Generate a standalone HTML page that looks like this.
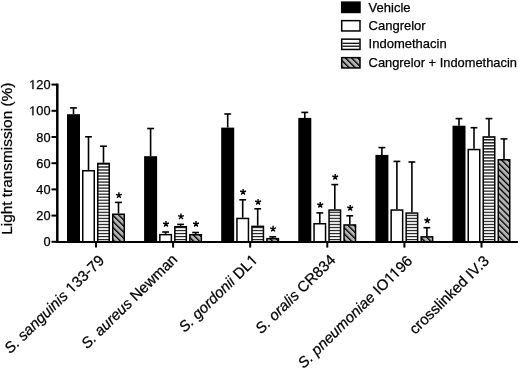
<!DOCTYPE html>
<html><head><meta charset="utf-8"><style>
html,body{margin:0;padding:0;background:#fff;}
body{width:520px;height:371px;overflow:hidden;}
svg{display:block;filter:grayscale(1);}
text{font-family:"Liberation Sans",sans-serif;fill:#000;stroke:#000;stroke-width:0.25px;}
.h{fill:none;stroke:none;}
</style></head><body>
<svg width="520" height="371" viewBox="0 0 520 371">
<defs>
<pattern id="hs" patternUnits="userSpaceOnUse" width="13" height="3.02" y="0.3"><rect width="13" height="3.02" fill="#fff"/><rect width="13" height="1.18" fill="#000"/></pattern>
<pattern id="dgl" patternUnits="userSpaceOnUse" width="4.3" height="4.3" x="0.5" patternTransform="rotate(-45)"><rect width="4.3" height="4.3" fill="#b4b4b4"/><rect width="1.35" height="4.3" fill="#000"/></pattern>
<pattern id="dg" patternUnits="userSpaceOnUse" width="4.3" height="4.3" patternTransform="rotate(-45)"><rect width="4.3" height="4.3" fill="#b4b4b4"/><rect width="1.35" height="4.3" fill="#000"/></pattern>
</defs>
<rect width="520" height="371" fill="#fff"/>

<line x1="73.50" y1="107.90" x2="73.50" y2="114.20" stroke="#000" stroke-width="1.6"/>
<line x1="70.10" y1="107.90" x2="76.90" y2="107.90" stroke="#000" stroke-width="1.6"/>
<rect x="67.00" y="114.20" width="13.0" height="127.60" fill="#000"/>
<line x1="88.50" y1="136.80" x2="88.50" y2="170.00" stroke="#000" stroke-width="1.6"/>
<line x1="85.10" y1="136.80" x2="91.90" y2="136.80" stroke="#000" stroke-width="1.6"/>
<rect x="82.75" y="170.75" width="11.5" height="71.05" fill="#fff" stroke="#000" stroke-width="1.5"/>
<line x1="103.50" y1="146.20" x2="103.50" y2="162.70" stroke="#000" stroke-width="1.6"/>
<line x1="100.10" y1="146.20" x2="106.90" y2="146.20" stroke="#000" stroke-width="1.6"/>
<rect x="97.75" y="163.45" width="11.5" height="78.35" fill="url(#hs)" stroke="#000" stroke-width="1.5"/>
<line x1="118.50" y1="202.40" x2="118.50" y2="213.50" stroke="#000" stroke-width="1.6"/>
<line x1="115.10" y1="202.40" x2="121.90" y2="202.40" stroke="#000" stroke-width="1.6"/>
<rect x="112.75" y="214.25" width="11.5" height="27.55" fill="url(#dg)" stroke="#000" stroke-width="1.5"/>
<path d="M118.90 195.30L118.90 192.20M118.90 195.30L121.85 194.34M118.90 195.30L120.72 197.81M118.90 195.30L117.08 197.81M118.90 195.30L115.95 194.34" stroke="#000" stroke-width="1.4" fill="none"/>
<line x1="150.60" y1="128.50" x2="150.60" y2="156.20" stroke="#000" stroke-width="1.6"/>
<line x1="147.20" y1="128.50" x2="154.00" y2="128.50" stroke="#000" stroke-width="1.6"/>
<rect x="144.10" y="156.20" width="13.0" height="85.60" fill="#000"/>
<line x1="165.60" y1="232.00" x2="165.60" y2="233.90" stroke="#000" stroke-width="1.6"/>
<line x1="162.20" y1="232.00" x2="169.00" y2="232.00" stroke="#000" stroke-width="1.6"/>
<rect x="159.85" y="234.65" width="11.5" height="7.15" fill="#fff" stroke="#000" stroke-width="1.5"/>
<path d="M166.00 224.00L166.00 220.90M166.00 224.00L168.95 223.04M166.00 224.00L167.82 226.51M166.00 224.00L164.18 226.51M166.00 224.00L163.05 223.04" stroke="#000" stroke-width="1.4" fill="none"/>
<line x1="180.60" y1="224.40" x2="180.60" y2="226.00" stroke="#000" stroke-width="1.6"/>
<line x1="177.20" y1="224.40" x2="184.00" y2="224.40" stroke="#000" stroke-width="1.6"/>
<rect x="174.85" y="226.75" width="11.5" height="15.05" fill="url(#hs)" stroke="#000" stroke-width="1.5"/>
<path d="M181.00 216.60L181.00 213.50M181.00 216.60L183.95 215.64M181.00 216.60L182.82 219.11M181.00 216.60L179.18 219.11M181.00 216.60L178.05 215.64" stroke="#000" stroke-width="1.4" fill="none"/>
<line x1="195.60" y1="232.50" x2="195.60" y2="234.00" stroke="#000" stroke-width="1.6"/>
<line x1="192.20" y1="232.50" x2="199.00" y2="232.50" stroke="#000" stroke-width="1.6"/>
<rect x="189.85" y="234.75" width="11.5" height="7.05" fill="url(#dg)" stroke="#000" stroke-width="1.5"/>
<path d="M196.00 224.00L196.00 220.90M196.00 224.00L198.95 223.04M196.00 224.00L197.82 226.51M196.00 224.00L194.18 226.51M196.00 224.00L193.05 223.04" stroke="#000" stroke-width="1.4" fill="none"/>
<line x1="227.70" y1="114.00" x2="227.70" y2="127.60" stroke="#000" stroke-width="1.6"/>
<line x1="224.30" y1="114.00" x2="231.10" y2="114.00" stroke="#000" stroke-width="1.6"/>
<rect x="221.20" y="127.60" width="13.0" height="114.20" fill="#000"/>
<line x1="242.70" y1="199.80" x2="242.70" y2="217.70" stroke="#000" stroke-width="1.6"/>
<line x1="239.30" y1="199.80" x2="246.10" y2="199.80" stroke="#000" stroke-width="1.6"/>
<rect x="236.95" y="218.45" width="11.5" height="23.35" fill="#fff" stroke="#000" stroke-width="1.5"/>
<path d="M243.10 192.00L243.10 188.90M243.10 192.00L246.05 191.04M243.10 192.00L244.92 194.51M243.10 192.00L241.28 194.51M243.10 192.00L240.15 191.04" stroke="#000" stroke-width="1.4" fill="none"/>
<line x1="257.70" y1="208.80" x2="257.70" y2="225.60" stroke="#000" stroke-width="1.6"/>
<line x1="254.30" y1="208.80" x2="261.10" y2="208.80" stroke="#000" stroke-width="1.6"/>
<rect x="251.95" y="226.35" width="11.5" height="15.45" fill="url(#hs)" stroke="#000" stroke-width="1.5"/>
<path d="M258.10 202.00L258.10 198.90M258.10 202.00L261.05 201.04M258.10 202.00L259.92 204.51M258.10 202.00L256.28 204.51M258.10 202.00L255.15 201.04" stroke="#000" stroke-width="1.4" fill="none"/>
<line x1="272.70" y1="236.80" x2="272.70" y2="237.90" stroke="#000" stroke-width="1.6"/>
<line x1="269.30" y1="236.80" x2="276.10" y2="236.80" stroke="#000" stroke-width="1.6"/>
<rect x="266.95" y="238.65" width="11.5" height="3.15" fill="url(#dg)" stroke="#000" stroke-width="1.5"/>
<path d="M273.10 228.80L273.10 225.70M273.10 228.80L276.05 227.84M273.10 228.80L274.92 231.31M273.10 228.80L271.28 231.31M273.10 228.80L270.15 227.84" stroke="#000" stroke-width="1.4" fill="none"/>
<line x1="304.80" y1="112.40" x2="304.80" y2="117.90" stroke="#000" stroke-width="1.6"/>
<line x1="301.40" y1="112.40" x2="308.20" y2="112.40" stroke="#000" stroke-width="1.6"/>
<rect x="298.30" y="117.90" width="13.0" height="123.90" fill="#000"/>
<line x1="319.80" y1="212.90" x2="319.80" y2="223.00" stroke="#000" stroke-width="1.6"/>
<line x1="316.40" y1="212.90" x2="323.20" y2="212.90" stroke="#000" stroke-width="1.6"/>
<rect x="314.05" y="223.75" width="11.5" height="18.05" fill="#fff" stroke="#000" stroke-width="1.5"/>
<path d="M320.20 205.00L320.20 201.90M320.20 205.00L323.15 204.04M320.20 205.00L322.02 207.51M320.20 205.00L318.38 207.51M320.20 205.00L317.25 204.04" stroke="#000" stroke-width="1.4" fill="none"/>
<line x1="334.80" y1="184.60" x2="334.80" y2="209.30" stroke="#000" stroke-width="1.6"/>
<line x1="331.40" y1="184.60" x2="338.20" y2="184.60" stroke="#000" stroke-width="1.6"/>
<rect x="329.05" y="210.05" width="11.5" height="31.75" fill="url(#hs)" stroke="#000" stroke-width="1.5"/>
<path d="M335.20 177.00L335.20 173.90M335.20 177.00L338.15 176.04M335.20 177.00L337.02 179.51M335.20 177.00L333.38 179.51M335.20 177.00L332.25 176.04" stroke="#000" stroke-width="1.4" fill="none"/>
<line x1="349.80" y1="215.80" x2="349.80" y2="224.20" stroke="#000" stroke-width="1.6"/>
<line x1="346.40" y1="215.80" x2="353.20" y2="215.80" stroke="#000" stroke-width="1.6"/>
<rect x="344.05" y="224.95" width="11.5" height="16.85" fill="url(#dg)" stroke="#000" stroke-width="1.5"/>
<path d="M350.20 208.00L350.20 204.90M350.20 208.00L353.15 207.04M350.20 208.00L352.02 210.51M350.20 208.00L348.38 210.51M350.20 208.00L347.25 207.04" stroke="#000" stroke-width="1.4" fill="none"/>
<line x1="381.90" y1="147.60" x2="381.90" y2="154.90" stroke="#000" stroke-width="1.6"/>
<line x1="378.50" y1="147.60" x2="385.30" y2="147.60" stroke="#000" stroke-width="1.6"/>
<rect x="375.40" y="154.90" width="13.0" height="86.90" fill="#000"/>
<line x1="396.90" y1="161.40" x2="396.90" y2="209.30" stroke="#000" stroke-width="1.6"/>
<line x1="393.50" y1="161.40" x2="400.30" y2="161.40" stroke="#000" stroke-width="1.6"/>
<rect x="391.15" y="210.05" width="11.5" height="31.75" fill="#fff" stroke="#000" stroke-width="1.5"/>
<line x1="411.90" y1="162.00" x2="411.90" y2="212.30" stroke="#000" stroke-width="1.6"/>
<line x1="408.50" y1="162.00" x2="415.30" y2="162.00" stroke="#000" stroke-width="1.6"/>
<rect x="406.15" y="213.05" width="11.5" height="28.75" fill="url(#hs)" stroke="#000" stroke-width="1.5"/>
<line x1="426.90" y1="227.70" x2="426.90" y2="236.10" stroke="#000" stroke-width="1.6"/>
<line x1="423.50" y1="227.70" x2="430.30" y2="227.70" stroke="#000" stroke-width="1.6"/>
<rect x="421.15" y="236.85" width="11.5" height="4.95" fill="url(#dg)" stroke="#000" stroke-width="1.5"/>
<path d="M427.30 220.50L427.30 217.40M427.30 220.50L430.25 219.54M427.30 220.50L429.12 223.01M427.30 220.50L425.48 223.01M427.30 220.50L424.35 219.54" stroke="#000" stroke-width="1.4" fill="none"/>
<line x1="459.00" y1="118.60" x2="459.00" y2="125.70" stroke="#000" stroke-width="1.6"/>
<line x1="455.60" y1="118.60" x2="462.40" y2="118.60" stroke="#000" stroke-width="1.6"/>
<rect x="452.50" y="125.70" width="13.0" height="116.10" fill="#000"/>
<line x1="474.00" y1="127.70" x2="474.00" y2="148.80" stroke="#000" stroke-width="1.6"/>
<line x1="470.60" y1="127.70" x2="477.40" y2="127.70" stroke="#000" stroke-width="1.6"/>
<rect x="468.25" y="149.55" width="11.5" height="92.25" fill="#fff" stroke="#000" stroke-width="1.5"/>
<line x1="489.00" y1="118.60" x2="489.00" y2="136.20" stroke="#000" stroke-width="1.6"/>
<line x1="485.60" y1="118.60" x2="492.40" y2="118.60" stroke="#000" stroke-width="1.6"/>
<rect x="483.25" y="136.95" width="11.5" height="104.85" fill="url(#hs)" stroke="#000" stroke-width="1.5"/>
<line x1="504.00" y1="138.90" x2="504.00" y2="159.00" stroke="#000" stroke-width="1.6"/>
<line x1="500.60" y1="138.90" x2="507.40" y2="138.90" stroke="#000" stroke-width="1.6"/>
<rect x="498.25" y="159.75" width="11.5" height="82.05" fill="url(#dg)" stroke="#000" stroke-width="1.5"/>
<line x1="57.3" y1="83.5" x2="57.3" y2="242.8" stroke="#000" stroke-width="2.5"/>
<line x1="56" y1="241.9" x2="517.9" y2="241.9" stroke="#000" stroke-width="2"/>
<line x1="51.5" y1="241.80" x2="57" y2="241.80" stroke="#000" stroke-width="2"/>
<text id="t1" class="o1" x="50.5" y="246.30" font-size="12.8" text-anchor="end">0</text>
<line x1="51.5" y1="215.60" x2="57" y2="215.60" stroke="#000" stroke-width="2"/>
<text id="t2" class="o1" x="50.5" y="220.10" font-size="12.8" text-anchor="end">20</text>
<line x1="51.5" y1="189.40" x2="57" y2="189.40" stroke="#000" stroke-width="2"/>
<text id="t3" class="o1" x="50.5" y="193.90" font-size="12.8" text-anchor="end">40</text>
<line x1="51.5" y1="163.20" x2="57" y2="163.20" stroke="#000" stroke-width="2"/>
<text id="t4" class="o1" x="50.5" y="167.70" font-size="12.8" text-anchor="end">60</text>
<line x1="51.5" y1="137.00" x2="57" y2="137.00" stroke="#000" stroke-width="2"/>
<text id="t5" class="o1" x="50.5" y="141.50" font-size="12.8" text-anchor="end">80</text>
<line x1="51.5" y1="110.80" x2="57" y2="110.80" stroke="#000" stroke-width="2"/>
<text id="t6" class="o1" x="50.5" y="115.30" font-size="12.8" text-anchor="end"><tspan class="h">1</tspan>00</text><path d="M32.36 115.30 L32.36 107.57 L30.37 108.99 L30.37 107.93 L32.45 106.49 L33.49 106.49 L33.49 115.30Z" fill="#000" stroke="#000" stroke-width="0.25"/>
<line x1="51.5" y1="84.60" x2="57" y2="84.60" stroke="#000" stroke-width="2"/>
<text id="t7" class="o1" x="50.5" y="89.10" font-size="12.8" text-anchor="end"><tspan class="h">1</tspan>20</text><path d="M32.36 89.10 L32.36 81.37 L30.37 82.79 L30.37 81.72 L32.45 80.29 L33.49 80.29 L33.49 89.10Z" fill="#000" stroke="#000" stroke-width="0.25"/>
<line x1="96.00" y1="242" x2="96.00" y2="247.6" stroke="#000" stroke-width="2"/>
<text id="t8" class="o1" transform="translate(105.10,261.50) rotate(-44.4)" font-size="15" text-anchor="end"><tspan font-style="italic">S. sanguinis</tspan> <tspan class="h">1</tspan>33-79</text>
<g transform="translate(105.10,261.50) rotate(-44.4)"><path d="M-42.95 0.00 L-42.95 -9.06 L-45.28 -7.40 L-45.28 -8.64 L-42.84 -10.32 L-41.62 -10.32 L-41.62 0.00Z" fill="#000" stroke="#000" stroke-width="0.25"/></g>
<line x1="173.10" y1="242" x2="173.10" y2="247.6" stroke="#000" stroke-width="2"/>
<text id="t9" class="o1" transform="translate(178.30,260.30) rotate(-44.4)" font-size="15" text-anchor="end"><tspan font-style="italic">S. aureus</tspan> Newman</text>
<line x1="250.20" y1="242" x2="250.20" y2="247.6" stroke="#000" stroke-width="2"/>
<text id="t10" class="o1" transform="translate(258.60,260.70) rotate(-44.4)" font-size="15" text-anchor="end"><tspan font-style="italic">S. gordonii</tspan> DL<tspan class="h">1</tspan></text>
<g transform="translate(258.60,260.70) rotate(-44.4)"><path d="M-4.57 0.00 L-4.57 -9.06 L-6.90 -7.40 L-6.90 -8.64 L-4.46 -10.32 L-3.25 -10.32 L-3.25 0.00Z" fill="#000" stroke="#000" stroke-width="0.25"/></g>
<line x1="327.30" y1="242" x2="327.30" y2="247.6" stroke="#000" stroke-width="2"/>
<text id="t11" class="o1" transform="translate(336.40,261.00) rotate(-44.4)" font-size="15" text-anchor="end"><tspan font-style="italic">S. oralis</tspan> CR834</text>
<line x1="404.40" y1="242" x2="404.40" y2="247.6" stroke="#000" stroke-width="2"/>
<text id="t12" class="o1" transform="translate(413.30,261.80) rotate(-44.4)" font-size="15" text-anchor="end"><tspan font-style="italic">S. pneumoniae</tspan> IO<tspan class="h">1</tspan><tspan class="h">1</tspan>96</text>
<g transform="translate(413.30,261.80) rotate(-44.4)"><path d="M-28.49 0.00 L-28.49 -9.06 L-30.82 -7.40 L-30.82 -8.64 L-28.38 -10.32 L-27.17 -10.32 L-27.17 0.00ZM-21.26 0.00 L-21.26 -9.06 L-23.59 -7.40 L-23.59 -8.64 L-21.15 -10.32 L-19.93 -10.32 L-19.93 0.00Z" fill="#000" stroke="#000" stroke-width="0.25"/></g>
<line x1="481.50" y1="242" x2="481.50" y2="247.6" stroke="#000" stroke-width="2"/>
<text id="t13" class="o1" transform="translate(489.90,261.90) rotate(-44.4)" font-size="15" text-anchor="end">crosslinked IV.3</text>
<text transform="translate(12.1,158.7) rotate(-90)" font-size="15.4" text-anchor="middle">Light transmission (%)</text>
<rect x="341.7" y="2.15" width="18.3" height="10.3" fill="#000" stroke="#000" stroke-width="1.5"/>
<text x="368.6" y="11.90" font-size="13">Vehicle</text>
<rect x="341.7" y="20.65" width="18.3" height="10.3" fill="#fff" stroke="#000" stroke-width="1.5"/>
<text x="368.6" y="29.90" font-size="13">Cangrelor</text>
<rect x="341.7" y="39.15" width="18.3" height="10.3" fill="#fff" stroke="#000" stroke-width="1.5"/>
<rect x="342.4" y="42.68" width="17" height="1.25" fill="#000"/>
<rect x="342.4" y="45.58" width="17" height="1.25" fill="#000"/>
<text x="368.6" y="48.40" font-size="13">Indomethacin</text>
<rect x="341.7" y="57.65" width="18.3" height="10.3" fill="url(#dgl)" stroke="#000" stroke-width="1.5"/>
<text x="368.6" y="66.90" font-size="13" textLength="148.3" lengthAdjust="spacingAndGlyphs">Cangrelor + Indomethacin</text>
</svg></body></html>
